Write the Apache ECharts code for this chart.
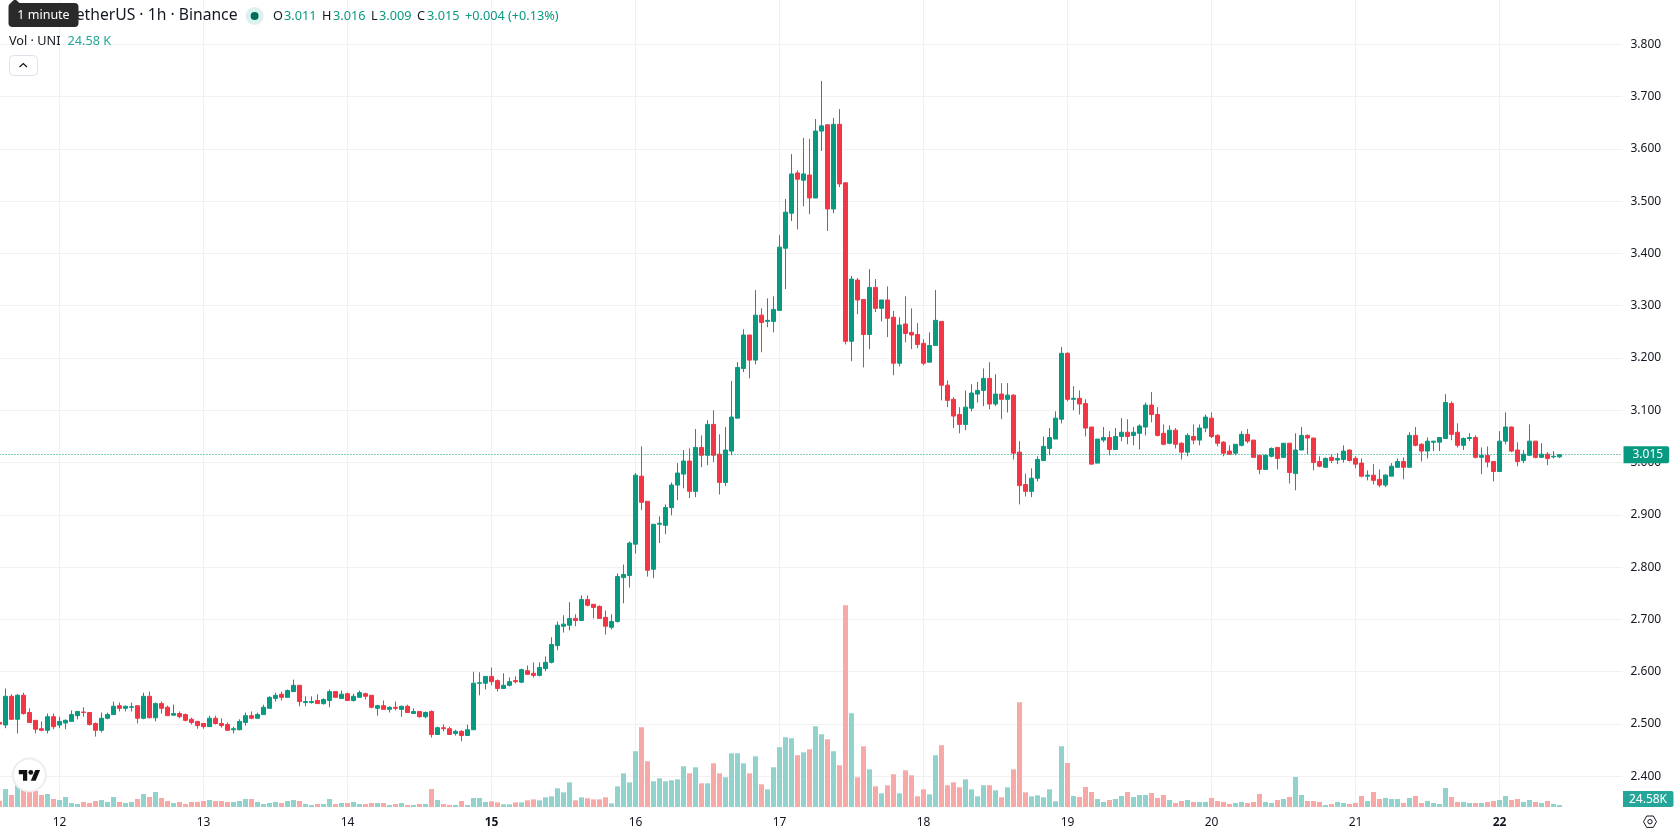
<!DOCTYPE html>
<html>
<head>
<meta charset="utf-8">
<title>UNI / TetherUS 1h</title>
<script src="https://cdn.jsdelivr.net/npm/echarts@6/dist/echarts.min.js"></script>
<style>
html,body{margin:0;padding:0;background:#fff;overflow:hidden}
#chart{width:1678px;height:835px}
</style>
</head>
<body>
<div id="chart"></div>
<script>
// Hourly candles, grouped by calendar day: [open, high, low, close]
const candlesDay11 = [
[2.503,2.503,2.500,2.500],[2.498,2.568,2.492,2.553],[2.553,2.557,2.509,2.509],[2.509,2.557,2.482,2.555],[2.555,2.560,2.518,2.520],
[2.522,2.530,2.503,2.503],[2.507,2.507,2.482,2.490],[2.491,2.505,2.486,2.488],[2.488,2.520,2.482,2.514],[2.514,2.520,2.490,2.495]];
const candlesDay12 = [
[2.498,2.514,2.492,2.505],[2.502,2.509,2.490,2.507],[2.505,2.526,2.505,2.518],[2.516,2.524,2.509,2.524],[2.523,2.532,2.514,2.522],
[2.522,2.522,2.497,2.499],[2.501,2.503,2.476,2.488],[2.488,2.522,2.484,2.511],[2.511,2.522,2.509,2.518],[2.518,2.543,2.518,2.534],
[2.535,2.541,2.524,2.530],[2.530,2.535,2.524,2.534],[2.532,2.541,2.524,2.533],[2.535,2.535,2.501,2.511],[2.511,2.560,2.509,2.553],
[2.553,2.562,2.511,2.512],[2.512,2.541,2.505,2.539],[2.539,2.543,2.520,2.530],[2.532,2.535,2.516,2.516],[2.517,2.537,2.516,2.520],
[2.520,2.524,2.511,2.514],[2.518,2.520,2.505,2.507],[2.509,2.512,2.499,2.503],[2.505,2.505,2.491,2.497]];
const candlesDay13 = [
[2.501,2.501,2.491,2.495],[2.495,2.516,2.495,2.511],[2.511,2.516,2.499,2.501],[2.501,2.511,2.493,2.497],[2.499,2.503,2.488,2.488],
[2.489,2.495,2.482,2.491],[2.489,2.509,2.488,2.505],[2.503,2.522,2.497,2.516],[2.516,2.524,2.509,2.511],[2.511,2.522,2.511,2.518],
[2.518,2.537,2.518,2.532],[2.530,2.553,2.530,2.551],[2.549,2.560,2.543,2.555],[2.557,2.562,2.545,2.551],[2.551,2.566,2.551,2.564],
[2.562,2.585,2.562,2.574],[2.574,2.574,2.534,2.543],[2.541,2.553,2.534,2.543],[2.541,2.553,2.539,2.543],[2.545,2.557,2.539,2.539],
[2.539,2.549,2.537,2.547],[2.545,2.566,2.532,2.562],[2.562,2.562,2.551,2.551],[2.549,2.564,2.549,2.557]];
const candlesDay14 = [
[2.558,2.560,2.545,2.545],[2.545,2.558,2.543,2.553],[2.551,2.564,2.551,2.560],[2.558,2.560,2.547,2.553],[2.555,2.555,2.530,2.532],
[2.530,2.537,2.516,2.535],[2.535,2.545,2.528,2.528],[2.528,2.534,2.522,2.532],[2.532,2.543,2.526,2.530],[2.528,2.535,2.514,2.534],
[2.534,2.537,2.522,2.522],[2.520,2.530,2.520,2.524],[2.524,2.524,2.512,2.514],[2.514,2.524,2.511,2.522],[2.524,2.526,2.474,2.480],
[2.480,2.495,2.480,2.493],[2.493,2.499,2.486,2.491],[2.491,2.495,2.480,2.480],[2.482,2.489,2.478,2.486],[2.486,2.488,2.467,2.478],
[2.478,2.499,2.478,2.489],[2.489,2.600,2.489,2.578],[2.578,2.599,2.555,2.579],[2.578,2.591,2.566,2.591]];
const candlesDay15 = [
[2.591,2.608,2.574,2.581],[2.583,2.585,2.562,2.568],[2.568,2.597,2.568,2.574],[2.574,2.589,2.572,2.581],[2.583,2.591,2.578,2.581],
[2.580,2.606,2.578,2.604],[2.602,2.612,2.595,2.595],[2.597,2.618,2.589,2.593],[2.593,2.618,2.591,2.608],[2.606,2.629,2.601,2.618],
[2.618,2.666,2.616,2.652],[2.650,2.696,2.641,2.689],[2.687,2.708,2.675,2.691],[2.689,2.733,2.679,2.702],[2.702,2.710,2.687,2.698],
[2.698,2.746,2.698,2.738],[2.738,2.746,2.725,2.727],[2.729,2.729,2.702,2.723],[2.725,2.727,2.702,2.702],[2.704,2.717,2.671,2.687],
[2.685,2.710,2.681,2.696],[2.696,2.788,2.694,2.782],[2.780,2.805,2.731,2.786],[2.784,2.849,2.761,2.846]];
const candlesDay16 = [
[2.844,2.980,2.826,2.976],[2.974,3.031,2.909,2.924],[2.926,2.926,2.782,2.794],[2.796,2.882,2.779,2.882],[2.882,2.897,2.846,2.884],
[2.880,2.920,2.863,2.914],[2.914,2.962,2.899,2.957],[2.957,2.999,2.928,2.980],[2.978,3.024,2.951,3.003],[3.003,3.027,2.932,2.945],
[2.945,3.064,2.934,3.029],[3.029,3.052,2.991,3.014],[3.014,3.081,2.995,3.073],[3.073,3.100,3.001,3.014],[3.016,3.054,2.939,2.962],
[2.962,3.068,2.955,3.024],[3.022,3.156,3.014,3.087],[3.085,3.192,3.085,3.182],[3.180,3.255,3.173,3.244],[3.244,3.244,3.161,3.196],
[3.196,3.330,3.188,3.282],[3.282,3.295,3.211,3.268],[3.270,3.314,3.259,3.272],[3.270,3.318,3.249,3.293]];
const candlesDay17 = [
[3.291,3.435,3.291,3.412],[3.410,3.504,3.332,3.479],[3.477,3.590,3.462,3.552],[3.554,3.559,3.446,3.542],[3.540,3.621,3.490,3.552],
[3.550,3.619,3.475,3.506],[3.506,3.657,3.506,3.634],[3.634,3.730,3.596,3.644],[3.646,3.647,3.443,3.485],[3.485,3.659,3.477,3.647],
[3.647,3.676,3.527,3.533],[3.535,3.536,3.226,3.232],[3.232,3.357,3.194,3.351],[3.349,3.353,3.284,3.311],[3.312,3.312,3.182,3.245],
[3.245,3.370,3.217,3.335],[3.335,3.351,3.288,3.295],[3.295,3.311,3.270,3.311],[3.311,3.337,3.240,3.276],[3.278,3.290,3.167,3.190],
[3.190,3.278,3.184,3.263],[3.265,3.318,3.230,3.247],[3.249,3.295,3.217,3.244],[3.245,3.267,3.219,3.226]];
const candlesDay18 = [
[3.228,3.236,3.186,3.190],[3.192,3.249,3.192,3.224],[3.224,3.330,3.224,3.272],[3.270,3.270,3.119,3.148],[3.148,3.157,3.106,3.119],
[3.121,3.125,3.066,3.089],[3.092,3.106,3.056,3.073],[3.073,3.138,3.062,3.106],[3.104,3.150,3.098,3.133],[3.131,3.154,3.115,3.138],
[3.138,3.180,3.108,3.161],[3.161,3.192,3.102,3.112],[3.112,3.169,3.108,3.131],[3.131,3.152,3.083,3.121],[3.121,3.152,3.096,3.129],
[3.129,3.131,3.006,3.018],[3.020,3.041,2.920,2.956],[2.958,2.979,2.935,2.945],[2.945,2.989,2.934,2.970],[2.970,3.012,2.964,3.006],
[3.004,3.050,3.004,3.031],[3.027,3.066,3.014,3.048],[3.045,3.098,3.045,3.085],[3.083,3.221,3.075,3.209]];
const candlesDay19 = [
[3.209,3.211,3.117,3.121],[3.121,3.146,3.100,3.123],[3.123,3.138,3.092,3.112],[3.113,3.121,3.050,3.066],[3.068,3.068,2.997,2.997],
[2.999,3.045,2.999,3.045],[3.043,3.068,3.039,3.048],[3.048,3.060,3.014,3.025],[3.025,3.066,3.025,3.050],[3.050,3.085,3.041,3.058],
[3.058,3.083,3.035,3.050],[3.052,3.068,3.033,3.058],[3.056,3.073,3.025,3.070],[3.068,3.115,3.052,3.110],[3.110,3.135,3.077,3.092],
[3.092,3.106,3.050,3.052],[3.056,3.073,3.033,3.035],[3.037,3.071,3.035,3.062],[3.062,3.066,3.027,3.035],[3.037,3.039,3.006,3.020],
[3.020,3.056,3.012,3.052],[3.050,3.073,3.035,3.043],[3.043,3.073,3.033,3.066],[3.066,3.092,3.058,3.087]];
const candlesDay20 = [
[3.085,3.096,3.047,3.050],[3.052,3.054,3.031,3.037],[3.039,3.041,3.012,3.018],[3.022,3.033,3.016,3.016],[3.018,3.035,3.014,3.035],
[3.033,3.060,3.031,3.054],[3.054,3.064,3.037,3.041],[3.043,3.043,3.010,3.010],[3.014,3.014,2.978,2.987],[2.987,3.016,2.987,3.014],
[3.012,3.029,3.010,3.027],[3.029,3.029,2.987,3.008],[3.010,3.037,3.010,3.037],[3.037,3.037,2.960,2.981],[2.979,3.056,2.947,3.024],
[3.024,3.068,3.024,3.052],[3.052,3.054,3.016,3.047],[3.047,3.047,2.985,3.000],[3.002,3.012,2.991,2.993],[2.991,3.010,2.991,3.008],
[3.010,3.016,2.999,3.004],[3.005,3.018,2.997,3.008],[3.006,3.033,3.000,3.022],[3.024,3.025,3.002,3.004]];
const candlesDay21 = [
[3.008,3.012,2.989,2.997],[2.999,3.008,2.972,2.974],[2.974,2.985,2.966,2.976],[2.976,2.997,2.958,2.966],[2.968,2.987,2.953,2.957],
[2.957,2.978,2.953,2.976],[2.974,2.999,2.974,2.993],[2.991,3.008,2.991,3.002],[3.002,3.010,2.968,2.991],[2.991,3.058,2.991,3.052],
[3.052,3.068,3.031,3.033],[3.035,3.037,3.002,3.022],[3.022,3.048,3.008,3.041],[3.039,3.041,3.022,3.041],[3.039,3.048,3.022,3.048],
[3.046,3.131,3.046,3.115],[3.113,3.117,3.043,3.054],[3.058,3.075,3.029,3.033],[3.033,3.048,3.024,3.046],[3.046,3.056,3.041,3.048],
[3.048,3.052,3.008,3.010],[3.010,3.029,2.978,3.014],[3.014,3.031,2.991,3.001],[3.002,3.002,2.964,2.983]];
const candlesDay22 = [
[2.983,3.060,2.983,3.041],[3.041,3.096,3.035,3.068],[3.068,3.069,3.020,3.022],[3.024,3.039,2.993,3.002],[3.004,3.024,2.999,3.016],
[3.014,3.073,3.014,3.041],[3.041,3.041,3.008,3.010],[3.010,3.037,3.010,3.016],[3.016,3.020,2.995,3.008],[3.011,3.022,3.008,3.012],
[3.011,3.016,3.009,3.015]];

// Hourly traded volume in thousands of UNI, same order as the candles
const volumesDay11 = [78,221,148,271,209,185,197,148,160,98];
const volumesDay12 = [86,123,49,37,62,49,74,86,62,123,62,49,62,98,160,123,185,111,74,49,62,37,62,62];
const volumesDay13 = [74,86,74,74,62,62,74,98,98,62,37,49,62,49,74,86,74,37,25,37,37,98,37,49];
const volumesDay14 = [49,62,37,37,49,49,49,25,37,49,25,25,37,37,221,86,37,25,25,74,25,111,111,62];
const volumesDay15 = [70,57,33,33,57,57,82,94,82,119,131,230,180,303,82,119,107,94,94,119,45,254,414,303];
const volumesDay16 = [685,980,562,316,353,316,328,340,500,414,488,291,291,537,414,365,660,660,537,414,623,279,217,488];
const volumesDay17 = [734,857,845,636,672,709,992,894,832,685,513,2481,1152,365,746,463,254,168,267,402,168,451,390,131];
const volumesDay18 = [217,156,636,759,267,303,242,340,217,131,267,267,205,119,242,463,1287,180,131,144,119,217,70,746];
const volumesDay19 = [541,135,123,246,185,98,62,86,98,135,185,123,148,148,172,111,148,86,49,74,86,62,62,62];
const volumesDay20 = [111,74,62,37,49,62,49,62,160,62,49,86,98,123,369,148,74,74,62,25,37,62,49,37];
const volumesDay21 = [49,135,74,185,98,111,98,98,49,111,135,49,74,49,37,234,123,62,62,49,49,49,62,74];
const volumesDay22 = [86,135,86,98,62,86,62,49,74,37,24.58];

const dayLabels = ['12','13','14','15','16','17','18','19','20','21','22'];
const boldDayLabels = ['15','22'];
const priceTicks = [2.4,2.5,2.6,2.7,2.8,2.9,3.0,3.1,3.2,3.3,3.4,3.5,3.6,3.7,3.8];
const lastPrice = 3.015;
const lastVolumeText = '24.58 K';

const UP = '#089981', DOWN = '#F23645';
const UP_VOL = '#92D2CC', DOWN_VOL = '#F7A9A7';
const TEXT = '#131722';
const FONT = '"Noto Sans", sans-serif';
const HOURS_BEFORE_DAY_12 = candlesDay11.length;
const EMPTY_HOURS_ON_RIGHT = 10;

const candles = [].concat(candlesDay11,candlesDay12,candlesDay13,candlesDay14,candlesDay15,candlesDay16,
  candlesDay17,candlesDay18,candlesDay19,candlesDay20,candlesDay21,candlesDay22);
const volumes = [].concat(volumesDay11,volumesDay12,volumesDay13,volumesDay14,volumesDay15,volumesDay16,
  volumesDay17,volumesDay18,volumesDay19,volumesDay20,volumesDay21,volumesDay22);

// One category per hour; only the first hour of a day carries a label
const categories = [];
for (let i = 0; i < candles.length + EMPTY_HOURS_ON_RIGHT; i++) {
  const d = i - HOURS_BEFORE_DAY_12;
  categories.push(d >= 0 && d % 24 === 0 ? (dayLabels[d / 24] || '') : '');
}
const isDayStart = (index, value) => value !== '';

const GRID_LEFT = -3.5, GRID_WIDTH = 1626;

function text(x, y, str, color, size, align) {
  return { type:'text', x, y, z:100, silent:true,
    style:{ text:str, fill:color, font:`${size||12.7}px ${FONT}`, textAlign:align||'left', textVerticalAlign:'middle' } };
}

const header = [
  text(237.5,16,'UNI / TetherUS · 1h · Binance',TEXT,15.7,'right'),
  { type:'circle', z:100, shape:{cx:254.6,cy:16,r:9}, style:{fill:'rgba(8,153,129,0.14)'} },
  { type:'circle', z:101, shape:{cx:254.6,cy:16,r:4}, style:{fill:'#006D5B'} },
  text(273,16,'O',TEXT), text(284,16,'3.011',UP),
  text(322,16,'H',TEXT), text(333,16,'3.016',UP),
  text(371,16,'L',TEXT), text(379,16,'3.009',UP),
  text(417,16,'C',TEXT), text(427,16,'3.015',UP),
  text(465,16,'+0.004 (+0.13%)',UP),
  text(9,41,'Vol · UNI',TEXT), text(67.5,41,lastVolumeText,'#26A69A'),
  { type:'rect', z:100, shape:{x:9.5,y:55.5,width:28,height:20,r:4}, style:{fill:'#fff',stroke:'#E0E3EB',lineWidth:1} },
  { type:'polyline', z:101, shape:{points:[[19.5,67],[23.3,63.5],[27,67]]}, style:{stroke:TEXT,fill:null,lineWidth:1.2} },
  // hover hint over the symbol name
  { type:'polygon', z:110, shape:{points:[[10,3.5],[15,-1],[20,3.5]]}, style:{fill:'#2A2A2A'} },
  { type:'rect', z:110, shape:{x:8.5,y:3,width:70,height:24,r:4}, style:{fill:'#2A2A2A'} },
  { type:'text', x:43.5, y:15.5, z:111, style:{text:'1 minute',fill:'#fff',font:`12.5px ${FONT}`,textAlign:'center',textVerticalAlign:'middle'} },
  // brand badge
  { type:'circle', z:100, shape:{cx:29.3,cy:775,r:16.5}, style:{fill:'#fff',stroke:'#EDEDF0',lineWidth:2} },
  { type:'polygon', z:101, shape:{points:[[18.8,770],[27.2,770],[27.2,780.8],[23,780.8],[23,774.2],[18.8,774.2]]}, style:{fill:'#111'} },
  { type:'polygon', z:101, shape:{points:[[35.6,780.8],[30.8,780.8],[35.3,770],[40.1,770]]}, style:{fill:'#111'} },
  { type:'circle', z:101, shape:{cx:30.8,cy:772.4,r:2.4}, style:{fill:'#111'} },
  // volume value tag on the price scale
  { type:'rect', z:100, shape:{x:1623,y:791,width:50.5,height:16,r:[0,2,2,0]}, style:{fill:'#26A69A'} },
  { type:'text', x:1648, y:799.5, z:101, style:{text:'24.58K',fill:'#fff',font:`12px ${FONT}`,textAlign:'center',textVerticalAlign:'middle'} },
  // settings glyph
  { type:'polygon', z:100, shape:{points:[[1643.5,821.7],[1646.7,816],[1653.3,816],[1656.5,821.7],[1653.3,827.4],[1646.7,827.4]]},
    style:{fill:'#fff',stroke:TEXT,lineWidth:1} },
  { type:'circle', z:101, shape:{cx:1650,cy:821.7,r:2.2}, style:{fill:'#fff',stroke:TEXT,lineWidth:1} }
];

const chart = echarts.init(document.getElementById('chart'), null, {renderer:'canvas'});
chart.setOption({
  animation:false,
  backgroundColor:'#fff',
  textStyle:{fontFamily:FONT},
  grid:[
    { left:GRID_LEFT, width:GRID_WIDTH, top:0, height:807, containLabel:false, outerBoundsMode:'none' },
    { left:GRID_LEFT, width:GRID_WIDTH, top:44.3, height:732, containLabel:false, outerBoundsMode:'none' }
  ],
  xAxis:[
    { type:'category', gridIndex:0, data:categories, boundaryGap:true,
      axisLine:{show:false}, axisTick:{show:false},
      axisLabel:{ interval:isDayStart, margin:10, color:TEXT, fontSize:12, fontFamily:FONT, hideOverlap:false,
        formatter:v => boldDayLabels.includes(v) ? `{b|${v}}` : v,
        rich:{b:{fontWeight:'bold',fontSize:12,color:TEXT,fontFamily:FONT}} },
      splitLine:{ show:true, interval:isDayStart, alignWithLabel:true, lineStyle:{color:'#F1F1F3',width:1} } },
    { type:'category', gridIndex:1, data:categories, boundaryGap:true,
      axisLine:{show:false}, axisTick:{show:false}, axisLabel:{show:false}, splitLine:{show:false} }
  ],
  yAxis:[
    { type:'value', gridIndex:0, min:0, max:9918, show:false, splitLine:{show:false} },
    { type:'value', gridIndex:1, position:'right',
      min:priceTicks[0], max:priceTicks[priceTicks.length-1], interval:0.1,
      axisLine:{show:false}, axisTick:{show:false},
      axisLabel:{ color:TEXT, fontSize:12, fontFamily:FONT, margin:8, formatter:v => v.toFixed(3) },
      splitLine:{ show:true, lineStyle:{color:'#F1F1F3',width:1} } }
  ],
  graphic:header,
  series:[
    { type:'bar', name:'Volume', xAxisIndex:0, yAxisIndex:0, barWidth:5, silent:true, z:2,
      data:volumes.map((v,i) => ({ value:v, itemStyle:{ color: candles[i][3] >= candles[i][0] ? UP_VOL : DOWN_VOL } })) },
    { type:'candlestick', name:'UNI/USDT', xAxisIndex:1, yAxisIndex:1, barWidth:4, silent:true, z:3,
      itemStyle:{ color:UP, color0:DOWN, borderColor:UP, borderColor0:DOWN, borderWidth:1 },
      data:candles.map(c => [c[0],c[3],c[2],c[1]]),
      markLine:{ silent:true, symbol:'none', animation:false, z:6, precision:3,
        lineStyle:{ color:UP, type:[1,2], width:1 },
        label:{ show:true, position:'end', distance:1, formatter:() => lastPrice.toFixed(3), color:'#fff',
          backgroundColor:UP, fontSize:12, fontFamily:FONT, padding:[3,6,2,9], borderRadius:[0,2,2,0] },
        emphasis:{disabled:true},
        data:[{yAxis:lastPrice}] } }
  ]
});
</script>
</body>
</html>
